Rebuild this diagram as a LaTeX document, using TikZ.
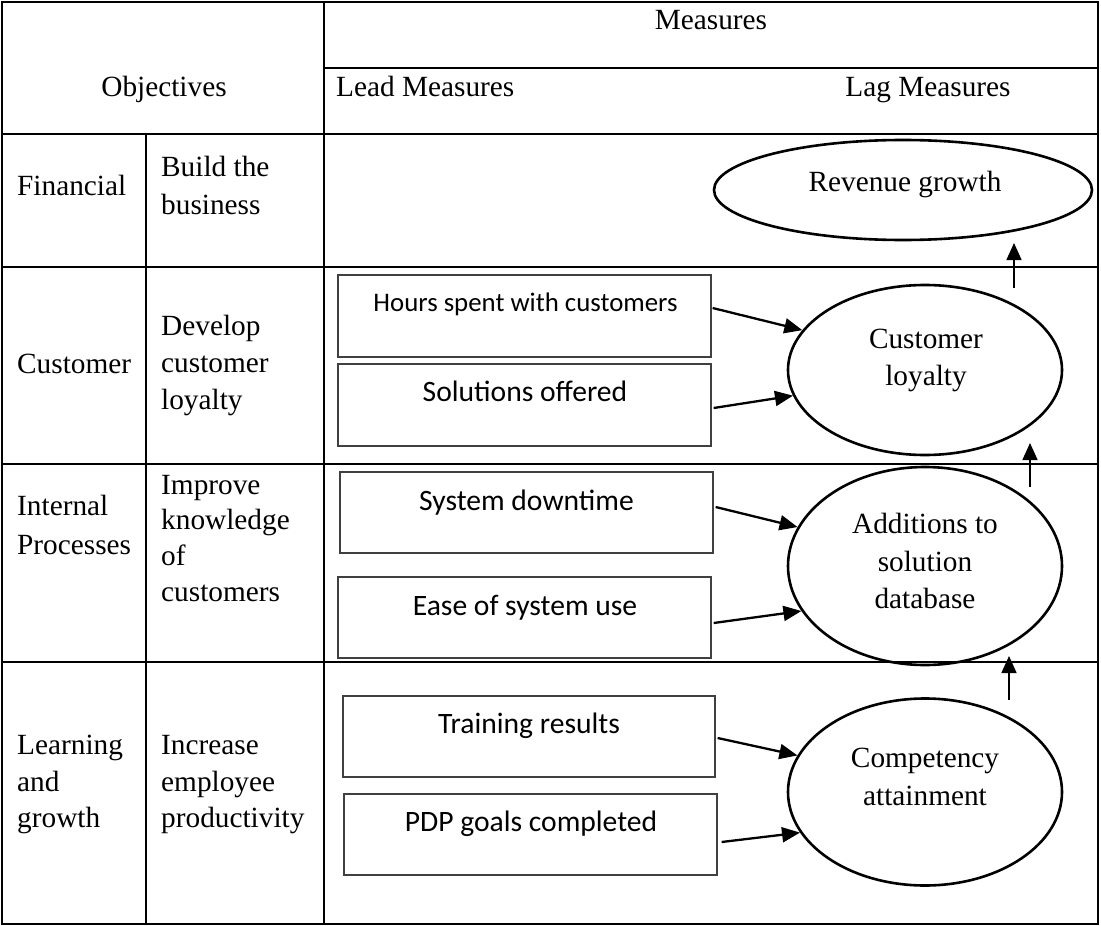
\documentclass[tikz,border=0pt]{standalone}
\usepackage{fontspec}
\setmainfont{Liberation Serif}
\newfontfamily\boxfont{Carlito}
\usetikzlibrary{shapes.geometric,arrows.meta}

\begin{document}
\begin{tikzpicture}[x=1pt,y=-1pt,
  rule/.style={line width=2.6pt, line cap=rect},
  tx/.style={font=\fontsize{29.3}{37}\selectfont, inner sep=0pt},
  leadbox/.style={draw=black!75, line width=1.3pt, inner sep=0pt, minimum width=373pt, minimum height=81pt},
  leadtx/.style={font=\boxfont\fontsize{29.6}{36}\selectfont, inner sep=0pt, anchor=mid},
  lag/.style={ellipse, draw, line width=2.6pt, inner sep=0pt},
  feed/.style={line width=2.3pt, -{Triangle[length=18pt,width=15pt]}},
  rise/.style={line width=1.6pt, -{Triangle[length=17pt,width=15pt]}}
]
\useasboundingbox (0,0) rectangle (1101,926);

% table frame and rules
\draw[rule] (2,2) rectangle (1098,924);
\draw[rule] (324,2) -- (324,924);
\draw[rule] (146,134) -- (146,924);
\draw[rule] (324,68) -- (1098,68);
\draw[rule] (2,134) -- (1098,134);
\draw[rule] (2,267) -- (1098,267);
\draw[rule] (2,464) -- (1098,464);
\draw[rule] (2,662) -- (1098,662);

% header
\node[tx, anchor=mid] (hMeas) at (711,27) {Measures};
\node[tx, anchor=mid] (hObj) at (164,94) {Objectives};
\node[tx, anchor=mid west] (hLead) at (336,94) {Lead Measures};
\node[tx, anchor=mid] (hLag) at (928,94) {Lag Measures};

% perspectives and objectives
\node[tx, anchor=mid west] (pFin) at (17,193) {Financial};
\node[tx, anchor=mid west] (oFinA) at (161,174) {Build the};
\node[tx, anchor=mid west] (oFinB) at (161,212) {business};

\node[tx, anchor=mid west] (pCus) at (17,371) {Customer};
\node[tx, anchor=mid west] (oCusA) at (161,333) {Develop};
\node[tx, anchor=mid west] (oCusB) at (161,370) {customer};
\node[tx, anchor=mid west] (oCusC) at (161,407) {loyalty};

\node[tx, anchor=mid west] (pIntA) at (17,513) {Internal};
\node[tx, anchor=mid west] (pIntB) at (17,552) {Processes};
\node[tx, anchor=mid west] (oIntA) at (161,492) {Improve};
\node[tx, anchor=mid west] (oIntB) at (161,527) {knowledge};
\node[tx, anchor=mid west] (oIntC) at (161,563) {of};
\node[tx, anchor=mid west] (oIntD) at (161,599) {customers};

\node[tx, anchor=mid west] (pLrnA) at (17,752) {Learning};
\node[tx, anchor=mid west] (pLrnB) at (17,789) {and};
\node[tx, anchor=mid west] (pLrnC) at (17,825) {growth};
\node[tx, anchor=mid west] (oLrnA) at (161,752) {Increase};
\node[tx, anchor=mid west] (oLrnB) at (161,789) {employee};
\node[tx, anchor=mid west] (oLrnC) at (161,825) {productivity};

% lead measure boxes
\node[leadbox, minimum height=82pt] (hours) at (524.5,316) {};
\node[leadtx, font=\boxfont\fontsize{26.8}{32}\selectfont] (hoursT) at (525.5,309) {Hours spent with customers};
\node[leadbox, minimum height=82pt] (sol) at (524.5,405) {};
\node[leadtx] (solT) at (525,399) {Solutions offered};
\node[leadbox] (sd) at (526.5,512.5) {};
\node[leadtx] (sdT) at (526.5,508) {System downtime};
\node[leadbox] (ease) at (524.5,617.5) {};
\node[leadtx] (easeT) at (525,613) {Ease of system use};
\node[leadbox, minimum width=372pt] (train) at (529,736.5) {};
\node[leadtx] (trainT) at (529,731) {Training results};
\node[leadbox] (pdp) at (530.5,834.5) {};
\node[leadtx] (pdpT) at (531,829) {PDP goals completed};

% lag measure ellipses
\node[lag, minimum width=378pt, minimum height=100pt] (rev) at (903,190) {};
\node[tx, anchor=mid] (revT) at (905,189) {Revenue growth};

\node[lag, minimum width=274pt, minimum height=170pt] (cl) at (925,370) {};
\node[tx, anchor=mid] (clA) at (926,346) {Customer};
\node[tx, anchor=mid] (clB) at (926,383) {loyalty};

\node[lag, minimum width=274pt, minimum height=198pt] (add) at (925,566) {};
\node[tx, anchor=mid] (addA) at (925,531) {Additions to};
\node[tx, anchor=mid] (addB) at (925,569) {solution};
\node[tx, anchor=mid] (addC) at (925,606) {database};

\node[lag, minimum width=274pt, minimum height=187pt] (comp) at (925,792) {};
\node[tx, anchor=mid] (compA) at (925,765) {Competency};
\node[tx, anchor=mid] (compB) at (925,803) {attainment};

% lead -> lag arrows
\draw[feed] ([xshift=1pt,yshift=8pt]hours.east) -- (cl.162.8);
\draw[feed] ([xshift=2pt,yshift=-3pt]sol.east) -- (cl.191.3);
\draw[feed] ([xshift=2pt,yshift=5.5pt]sd.east) -- (add.163.1);
\draw[feed] ([xshift=2pt,yshift=-5.5pt]ease.east) -- (add.200.6);
\draw[feed] ([xshift=2pt,yshift=-1.5pt]train.east) -- (comp.164.5);
\draw[feed] ([xshift=4pt,yshift=-7.5pt]pdp.east) -- (comp.198.6);

% lag -> lag arrows
\coordinate (up1s) at (1014,288);
\coordinate (up1e) at (1014,243);
\coordinate (up2s) at (1030,487);
\coordinate (up2e) at (1030,443);
\coordinate (up3s) at (1009,700);
\coordinate (up3e) at (1009,656);
\draw[rise] (up1s) -- (up1e);
\draw[rise] (up2s) -- (up2e);
\draw[rise] (up3s) -- (up3e);
\end{tikzpicture}
\end{document}
